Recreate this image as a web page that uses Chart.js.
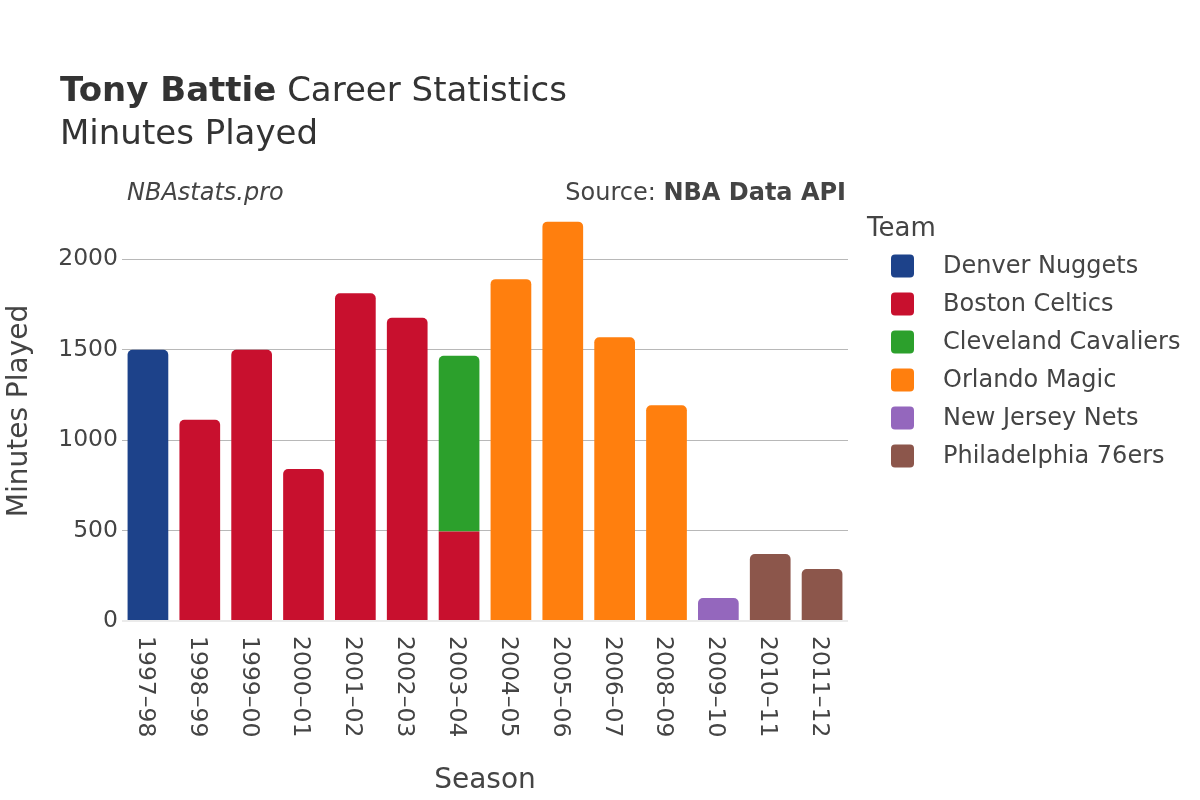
<!DOCTYPE html>
<html>
<head>
<meta charset="utf-8">
<script src="https://cdn.jsdelivr.net/npm/chart.js@4/dist/chart.umd.min.js"></script>
<style>
  html, body { margin: 0; padding: 0; background: #fff; }
  #wrap { width: 1200px; height: 800px; position: relative; }
</style>
</head>
<body>
<div id="wrap"><canvas id="chart" width="1200" height="800"></canvas></div>
<script>
const SEASONS = ['1997–98', '1998–99', '1999–00', '2000–01', '2001–02', '2002–03', '2003–04',
                 '2004–05', '2005–06', '2006–07', '2008–09', '2009–10', '2010–11', '2011–12'];

// minutes per team, one slot per season (null = did not play for that team)
const DENVER    = [1500, null, null, null, null, null, null, null, null, null, null, null, null, null];
const BOSTON    = [null, 1112, 1500, 840, 1812, 1677, 495, null, null, null, null, null, null, null];
const CLEVELAND = [null, null, null, null, null, null, 971, null, null, null, null, null, null, null];
const ORLANDO   = [null, null, null, null, null, null, null, 1890, 2208, 1569, 1193, null, null, null];
const NEWJERSEY = [null, null, null, null, null, null, null, null, null, null, null, 127, null, null];
const PHILLY    = [null, null, null, null, null, null, null, null, null, null, null, null, 370, 287];

const TEAMS  = ['Denver Nuggets', 'Boston Celtics', 'Cleveland Cavaliers', 'Orlando Magic', 'New Jersey Nets', 'Philadelphia 76ers'];
const COLORS = ['#1d428a', '#c8102e', '#2ca02c', '#ff7f0e', '#9467bd', '#8c564b'];
const SERIES = [DENVER, BOSTON, CLEVELAND, ORLANDO, NEWJERSEY, PHILLY];

const Y_TICKS = [0, 500, 1000, 1500, 2000];
const Y_MAX = 2300;

const FONT = '"DejaVu Sans", Verdana, sans-serif';

// only round the top of the highest segment in a stack
function topRadius(ctx) {
  let ds = ctx.datasetIndex, i = ctx.dataIndex;
  for (let k = ds + 1; k < SERIES.length; ++k) {
    if (SERIES[k][i] != null) return 0;
  }
  return { topLeft: 5, topRight: 5, bottomLeft: 0, bottomRight: 0 };
}

const textPlugin = {
  id: 'texts',
  afterDraw(chart) {
    const c = chart.ctx;
    c.save();

    // title
    c.fillStyle = '#333';
    c.textBaseline = 'alphabetic';
    c.textAlign = 'left';
    c.font = `bold 34px ${FONT}`;
    c.fillText('Tony Battie', 60, 101);
    let w = c.measureText('Tony Battie').width;
    c.font = `34px ${FONT}`;
    c.fillText(' Career Statistics', 60 + w, 101);
    c.fillText('Minutes Played', 60, 144);

    // credits
    c.fillStyle = '#444';
    c.font = `italic 24px ${FONT}`;
    c.fillText('NBAstats.pro', 127, 200);
    c.font = `bold 24px ${FONT}`;
    let bw = c.measureText('NBA Data API').width;
    c.textAlign = 'right';
    c.fillText('NBA Data API', 846, 200);
    c.font = `24px ${FONT}`;
    c.fillText('Source: ', 846 - bw, 200);

    // axis titles
    c.font = `28px ${FONT}`;
    c.textAlign = 'center';
    c.fillText('Season', 485, 788);
    c.save();
    c.translate(27, 411);
    c.rotate(-Math.PI / 2);
    c.fillText('Minutes Played', 0, 0);
    c.restore();

    // x tick labels, reading downward
    const xs = chart.scales.x;
    c.font = `23.5px ${FONT}`;
    c.textAlign = 'left';
    c.textBaseline = 'middle';
    for (let i = 0; i < SEASONS.length; ++i) {
      c.save();
      c.translate(xs.getPixelForTick(i) - 3, 636);
      c.rotate(Math.PI / 2);
      c.fillText(SEASONS[i], 0, 0);
      c.restore();
    }

    // legend
    c.font = `26px ${FONT}`;
    c.textBaseline = 'alphabetic';
    c.fillText('Team', 867, 236);
    c.font = `24px ${FONT}`;
    c.textBaseline = 'middle';
    for (let k = 0; k < TEAMS.length; ++k) {
      let y = 266 + k * 38;
      c.fillStyle = COLORS[k];
      c.beginPath();
      c.roundRect(891, y - 11.5, 23, 23, 4);
      c.fill();
      c.fillStyle = '#444';
      c.fillText(TEAMS[k], 943, y + 1);
    }

    c.restore();
  }
};

new Chart(document.getElementById('chart'), {
  type: 'bar',
  data: {
    labels: SEASONS,
    datasets: TEAMS.map((name, k) => ({
      label: name,
      data: SERIES[k],
      backgroundColor: COLORS[k],
      borderWidth: 0,
      borderRadius: topRadius,
      borderSkipped: false,
      categoryPercentage: 0.785,
      barPercentage: 1
    }))
  },
  options: {
    responsive: false,
    animation: false,
    layout: { padding: { top: 205, right: 352, bottom: 0, left: 0 } },
    plugins: {
      legend: { display: false },
      title: { display: false },
      tooltip: { enabled: false }
    },
    scales: {
      x: {
        stacked: true,
        grid: { display: false },
        border: { display: false },
        ticks: { display: false },
        afterFit(s) { s.height = 179; }
      },
      y: {
        stacked: true,
        min: 0,
        max: Y_MAX,
        border: { display: false },
        grid: {
          drawTicks: false,
          color: ctx => ctx.tick && ctx.tick.value === 0 ? '#ebebeb' : '#b8b8b8',
          lineWidth: ctx => ctx.tick && ctx.tick.value === 0 ? 2 : 1
        },
        afterBuildTicks(s) { s.ticks = Y_TICKS.map(v => ({ value: v })); },
        ticks: {
          padding: 4,
          color: '#444',
          font: { family: FONT, size: 23.5 },
          callback: v => String(v)
        },
        afterFit(s) { s.width = 122; }
      }
    }
  },
  plugins: [textPlugin]
});
</script>
</body>
</html>
